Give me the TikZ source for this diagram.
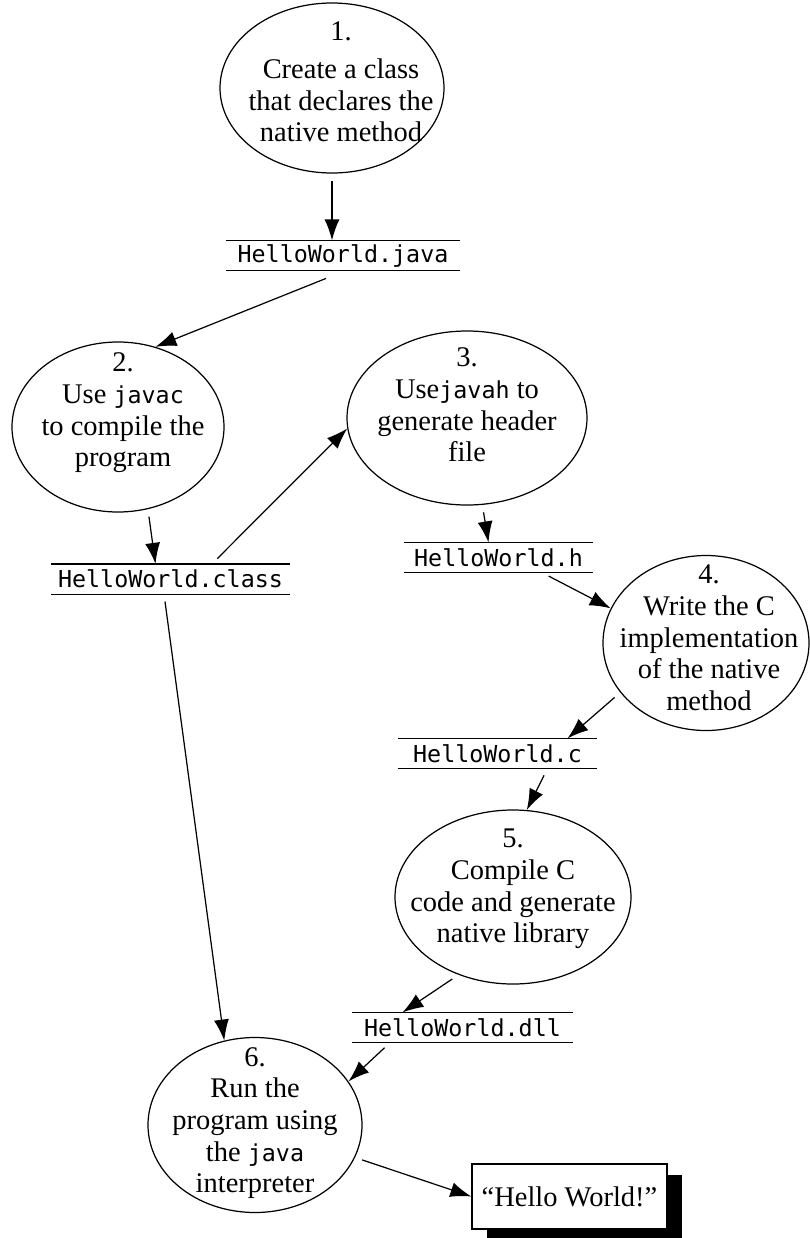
\documentclass[tikz,border=0pt]{standalone}
\usepackage{fontspec}
\setmainfont{Liberation Serif}
\setmonofont{DejaVu Sans Mono}[Scale=0.82]
\usetikzlibrary{shapes.geometric,arrows.meta,shadows}
\tikzset{
  stage/.style={draw, ellipse, inner sep=0pt},
  file/.style={font=\fontsize{16.2}{18}\selectfont\ttfamily, inner sep=0pt, minimum height=0.58cm,
    append after command={(\tikzlastnode.north west) edge (\tikzlastnode.north east)
                          (\tikzlastnode.south west) edge (\tikzlastnode.south east)}},
  flow/.style={draw, -{Latex[length=0.42cm,width=0.3cm]}, shorten <=0.15cm},
}
\begin{document}
\begin{tikzpicture}[line width=0.7pt, font=\fontsize{16.2}{18}\selectfont]
\useasboundingbox (0,0) rectangle (16.2,-24.76);
\node[stage, minimum width=4.48cm, minimum height=3.4cm, label={[align=center,xshift=0.18cm,yshift=0.12cm]center:{1.\\[0.12cm]Create a class\\that declares the\\native method}}] (s1) at (6.64,-1.76) {};
\node[stage, minimum width=4.24cm, minimum height=3.4cm, label={[align=center,xshift=0.1cm,yshift=0.28cm]center:{2.\\Use \texttt{javac}\\to compile the\\program}}] (s2) at (2.36,-8.54) {};
\node[stage, minimum width=4.8cm, minimum height=3.48cm, label={[align=center,yshift=0.26cm]center:{3.\\Use\texttt{javah} to\\generate header\\file}}] (s3) at (9.34,-8.36) {};
\node[stage, minimum width=4.12cm, minimum height=3.5cm, label={[align=center,xshift=0.06cm,yshift=0.1cm]center:{4.\\Write the C\\implementation\\of the native\\method}}] (s4) at (14.12,-12.86) {};
\node[stage, minimum width=4.72cm, minimum height=3.48cm, label={[align=center,yshift=0.16cm]center:{5.\\Compile C\\code and generate\\native library}}] (s5) at (10.26,-17.94) {};
\node[stage, minimum width=4.28cm, minimum height=3.5cm, label={[align=center,yshift=0.04cm]center:{6.\\Run the\\program using\\the \texttt{java}\\interpreter}}] (s6) at (5.1,-22.5) {};
\node[file, minimum width=4.64cm] (java) at (6.86,-5.11) {HelloWorld.java};
\node[file, minimum width=4.74cm] (class) at (3.41,-11.58) {HelloWorld.class};
\node[file, minimum width=3.74cm] (header) at (9.97,-11.15) {HelloWorld.h};
\node[file, minimum width=3.94cm] (csrc) at (9.95,-15.07) {HelloWorld.c};
\node[file, minimum width=4.38cm] (dll) at (9.25,-20.55) {HelloWorld.dll\ };
\node[draw, fill=white, minimum width=3.9cm, minimum height=1.3cm, drop shadow={shadow xshift=0.3cm, shadow yshift=-0.22cm, fill=black, opacity=1}] (out) at (11.39,-23.93) {“Hello World!”};
\path[flow] (s1.south) -- (s1.south |- java.north);
\path[flow] ([xshift=-0.2cm,yshift=-0.1cm]java.south) -- (s2.65);
\path[flow] (s2.-70) -- ([xshift=-0.3cm]class.north);
\path[flow] ([xshift=0.83cm]class.north) -- (s3.185);
\path[flow] (s3.-80) -- ([xshift=-0.2cm]header.north);
\path[flow] ([xshift=0.87cm]header.south) -- (s4.160);
\path[flow] (s4.210) -- ([xshift=1.4cm]csrc.north);
\path[flow] ([xshift=1cm]csrc.south) -- (s5.81);
\path[flow] (s5.-125) -- ([xshift=-1.2cm]dll.north);
\path[flow] ([xshift=-1.45cm]dll.south) -- (s6.25);
\path[flow] ([xshift=-0.13cm]class.south) -- (s6.110);
\path[flow] (s6.-18) -- (out.west);
\end{tikzpicture}
\end{document}
